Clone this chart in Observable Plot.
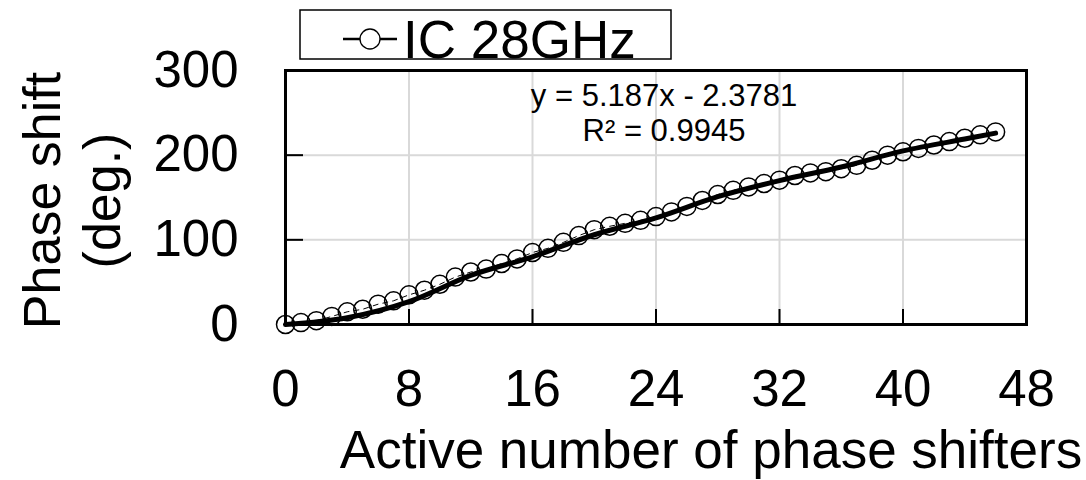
<!DOCTYPE html>
<html><head><meta charset="utf-8">
<script src="https://cdn.jsdelivr.net/npm/d3@7"></script>
<script src="https://cdn.jsdelivr.net/npm/@observablehq/plot@0.6"></script>
<style>body{margin:0;background:#fff;}</style>
</head><body><div id="chart"></div>
<script>
const activeCount = [0,1,2,3,4,5,6,7,8,9,10,11,12,13,14,15,16,17,18,19,20,21,22,23,24,25,26,27,28,29,30,31,32,33,34,35,36,37,38,39,40,41,42,43,44,45,46];
const phaseShift = [0,2.3,4.5,9.5,15,18,24,28,35,40.5,47.5,56,62,65.5,72,77.5,85,90,97,105,112,116,119.5,123,127.5,133,139.5,146.5,153.5,158.5,162.5,166.5,170.5,176,179,180.5,184,188,194,200,204,208,212,216,220,224,227.5];
const smoothX = [0,4,8,12,16,20,24,28,32,36,40,44,46];
const smoothY = [0,8,27,58,80,106,126,151,170,186,205,219,226];
const xTicks = [0,8,16,24,32,40,48];
const yTicks = [0,100,200,300];
const gridX = [8,16,24,32,40];
const gridY = [100,200];
const legendLabel = "IC 28GHz";
const fitText = ["y = 5.187x - 2.3781", "R² = 0.9945"];
const xTitle = "Active number of phase shifters";
const yTitle = ["Phase shift", "(deg.)"];

const pts = activeCount.map((x, i) => ({x, y: phaseShift[i]}));
const smooth = smoothX.map((x, i) => ({x, y: smoothY[i]}));
const font = "'Liberation Sans', Arial, sans-serif";

const W = 1086, H = 480, mL = 285, mR = 60, mT = 70, mB = 156;
const fw = W - mL - mR, fh = H - mT - mB;

const chart = Plot.plot({
  width: W, height: H,
  marginLeft: mL, marginRight: mR, marginTop: mT, marginBottom: mB,
  style: {fontFamily: font, background: "white", color: "black"},
  x: {domain: [0, 48]},
  y: {domain: [0, 300]},
  marks: [
    Plot.ruleX(gridX, {stroke: "#d9d9d9", strokeWidth: 2}),
    Plot.ruleY(gridY, {stroke: "#d9d9d9", strokeWidth: 2}),
    Plot.ruleX(gridX, {stroke: "black", strokeWidth: 2, insetTop: fh - 15}),
    Plot.ruleY(gridY, {stroke: "black", strokeWidth: 2, insetRight: fw - 18}),
    Plot.frame({stroke: "black", strokeWidth: 3}),
    Plot.axisX({ticks: xTicks, tickSize: 0, tickPadding: 45, fontSize: 51, label: null}),
    Plot.axisY({ticks: yTicks, tickSize: 0, tickPadding: 47, fontSize: 51, label: null}),
    Plot.dot(pts, {x: "x", y: "y", r: 9, stroke: "black", strokeWidth: 1.5, fill: "none"}),
    Plot.line(pts, {x: "x", y: "y", stroke: "black", strokeWidth: 1, strokeDasharray: "5,5"}),
    Plot.line(smooth, {x: "x", y: "y", stroke: "black", strokeWidth: 5, curve: "catmull-rom"}),
    Plot.text([fitText.join("\n")], {frameAnchor: "top", textAnchor: "middle", dx: 8, dy: 11, lineAnchor: "top", fontSize: 31, lineHeight: 1.13, fill: "black"}),
    Plot.text([xTitle], {frameAnchor: "bottom", textAnchor: "middle", dx: 55, dy: 127, lineAnchor: "middle", fontSize: 53, fill: "black"}),
    Plot.text([yTitle.join("\n")], {frameAnchor: "left", textAnchor: "middle", dx: -215, dy: 3, rotate: -90, lineAnchor: "middle", lineHeight: 1.17, fontSize: 52, fill: "black"})
  ]
});

const svg = d3.select(chart);
const lg = svg.append("g");
lg.append("rect").attr("x", 300).attr("y", 10).attr("width", 371).attr("height", 49)
  .attr("fill", "white").attr("stroke", "black").attr("stroke-width", 1.5);
lg.append("line").attr("x1", 343).attr("x2", 397).attr("y1", 39).attr("y2", 39)
  .attr("stroke", "black").attr("stroke-width", 2.5);
lg.append("circle").attr("cx", 370).attr("cy", 39).attr("r", 10)
  .attr("fill", "white").attr("stroke", "black").attr("stroke-width", 1.3);
lg.append("text").attr("x", 403).attr("y", 58).attr("font-size", 53)
  .attr("text-anchor", "start")
  .attr("font-family", font).attr("fill", "black").text(legendLabel);

document.getElementById("chart").appendChild(chart);
</script>
</body></html>
